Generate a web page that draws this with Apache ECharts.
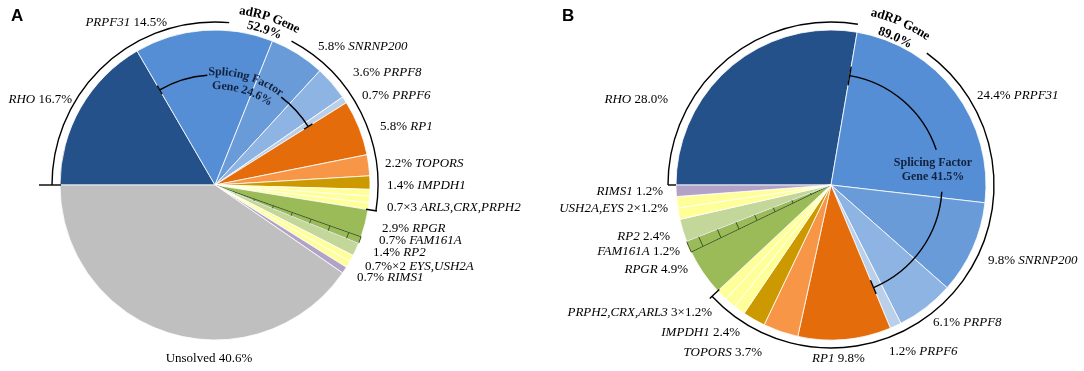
<!DOCTYPE html>
<html>
<head>
<meta charset="utf-8">
<script src="https://cdn.jsdelivr.net/npm/echarts@6/dist/echarts.min.js"></script>
<style>
  html, body { margin: 0; padding: 0; background: #fff; }
  #chart { width: 1084px; height: 371px; }
</style>
</head>
<body>
<div id="chart"></div>
<script>
// ---- data (percent of families) ----
var genesA = ['RHO', 'PRPF31', 'SNRNP200', 'PRPF8', 'PRPF6', 'RP1', 'TOPORS', 'IMPDH1', 'ARL3', 'CRX', 'PRPH2',
  'RPGR', 'FAM161A', 'RP2', 'EYS', 'USH2A', 'RIMS1', 'Unsolved']
var valuesA = [16.7, 14.5, 5.8, 3.6, 0.7, 5.8, 2.2, 1.4, 0.7, 0.7, 0.7, 2.9, 0.7, 1.4, 0.7, 0.7, 0.7, 40.6]
var labelsA = ['{g|RHO} 16.7%', '{g|PRPF31} 14.5%', '5.8% {g|SNRNP200}', '3.6% {g|PRPF8}', '0.7% {g|PRPF6}',
  '5.8% {g|RP1}', '2.2% {g|TOPORS}', '1.4% {g|IMPDH1}', '', '0.7×3 {g|ARL3,CRX,PRPH2}', '',
  '2.9% {g|RPGR}', '0.7% {g|FAM161A}', '1.4% {g|RP2}', '0.7%×2 {g|EYS,USH2A}', '', '0.7% {g|RIMS1}', 'Unsolved 40.6%']

var genesB = ['RHO', 'PRPF31', 'SNRNP200', 'PRPF8', 'PRPF6', 'RP1', 'TOPORS', 'IMPDH1', 'PRPH2', 'CRX', 'ARL3',
  'RPGR', 'FAM161A', 'RP2', 'USH2A', 'EYS', 'RIMS1']
var valuesB = [28.0, 24.4, 9.8, 6.1, 1.2, 9.8, 3.7, 2.4, 1.2, 1.2, 1.2, 4.9, 1.2, 2.4, 1.2, 1.2, 1.2]
var labelsB = ['{g|RHO} 28.0%', '24.4% {g|PRPF31}', '9.8% {g|SNRNP200}', '6.1% {g|PRPF8}', '1.2% {g|PRPF6}',
  '{g|RP1} 9.8%', '{g|TOPORS} 3.7%', '{g|IMPDH1} 2.4%', '', '{g|PRPH2,CRX,ARL3} 3×1.2%', '',
  '{g|RPGR} 4.9%', '{g|FAM161A} 1.2%', '{g|RP2} 2.4%', '{g|USH2A,EYS} 2×1.2%', '', '{g|RIMS1} 1.2%']

var groupTextA = ['adRP Gene', '52.9%', 'Splicing Factor', 'Gene 24.6%']
var groupTextB = ['adRP Gene', '89.0%', 'Splicing Factor', 'Gene 41.5%']
var adrpLast = 10      // last adRP slice index (PRPH2 / ARL3)
var spliceRange = [1, 4] // PRPF31 .. PRPF6

// ---- styles / layout ----
var colors = {
  RHO: '#245189', PRPF31: '#558ED5', SNRNP200: '#6A9BD9', PRPF8: '#8EB4E3', PRPF6: '#B9CFEA',
  RP1: '#E46C0A', TOPORS: '#F79646', IMPDH1: '#CC9900', ARL3: '#FFFF99', CRX: '#FFFF99', PRPH2: '#FFFF99',
  RPGR: '#9BBB59', FAM161A: '#9BBB59', RP2: '#C4D79B', EYS: '#FFFF99', USH2A: '#FFFF99',
  RIMS1: '#B3A2C7', Unsolved: '#BFBFBF'
}
var posA = [[72, 100, 'right'], [167, 23, 'right'], [318, 47], [353, 73], [362, 96], [380, 127], [385, 164],
  [387, 186], null, [387, 208], null, [382, 229], [379, 241], [373, 253], [365, 267], null, [357, 278],
  [209, 359, 'center']]
var posB = [[668, 100, 'right'], [977, 96], [988, 261], [933, 323], [889, 352], [812, 359], [762, 353, 'right'],
  [740, 333, 'right'], null, [712, 313, 'right'], null, [688, 270, 'right'], [680, 252, 'right'],
  [670, 237, 'right'], [668, 209, 'right'], null, [663, 192, 'right']]

var SERIF = '"Liberation Serif", "Times New Roman", serif'
var cA = [215, 185], cB = [831, 185], R = 155, START = 180
var hatchColor = '#3B5A1C'
var navy = '#10223F'

function bounds (values) {
  var total = values.reduce(function (s, v) { return s + v }, 0)
  var cum = 0
  return values.map(function (v) {
    var a0 = START - cum / total * 360
    cum += v
    return [a0, START - cum / total * 360]
  })
}

function pt (c, r, deg) {
  var a = deg * Math.PI / 180
  return [c[0] + r * Math.cos(a), c[1] - r * Math.sin(a)]
}

function arc (c, r, from, to, w) {
  return {
    type: 'arc', z: 100,
    shape: { cx: c[0], cy: c[1], r: r, startAngle: -from * Math.PI / 180, endAngle: -to * Math.PI / 180, clockwise: true },
    style: { stroke: '#000', fill: 'none', lineWidth: w || 1.4 }
  }
}

function tick (c, r1, r2, deg, w) {
  var p = pt(c, r1, deg), q = pt(c, r2, deg)
  return { type: 'line', z: 100, shape: { x1: p[0], y1: p[1], x2: q[0], y2: q[1] }, style: { stroke: '#000', lineWidth: w || 1.4 } }
}

var measureCtx = document.createElement('canvas').getContext('2d')
function curved (c, str, r, midDeg, font, color) {
  measureCtx.font = font
  var chars = str.split('')
  var ws = chars.map(function (ch) { return measureCtx.measureText(ch).width })
  var total = ws.reduce(function (s, v) { return s + v }, 0)
  var a0 = midDeg * Math.PI / 180 + total / 2 / r
  var acc = 0
  return chars.map(function (ch, i) {
    var a = a0 - (acc + ws[i] / 2) / r
    acc += ws[i]
    return {
      type: 'text', z: 101,
      x: c[0] + r * Math.cos(a), y: c[1] - r * Math.sin(a),
      rotation: a - Math.PI / 2,
      style: { text: ch, font: font, fill: color || '#000', align: 'center', verticalAlign: 'middle', textAlign: 'center', textVerticalAlign: 'middle' }
    }
  })
}

function hatch (c, b) {
  var els = []
  for (var r = 22; r < R; r += 20) {
    var p = pt(c, r, b[0]), q = pt(c, r, b[1])
    els.push({ type: 'line', z: 100, shape: { x1: p[0], y1: p[1], x2: q[0], y2: q[1] }, style: { stroke: hatchColor, lineWidth: 1 } })
  }
  return els
}

function buildData (genes, values, labels) {
  return genes.map(function (g, i) {
    var item = { name: g, value: values[i], itemStyle: { color: colors[g] } }
    if (g === 'FAM161A') item.itemStyle = { color: colors[g], borderColor: hatchColor, borderWidth: 1 }
    if (!labels[i]) item.label = { show: false }
    return item
  })
}

function pieSeries (center, genes, values, labels, pos) {
  return {
    type: 'pie',
    center: center,
    radius: R,
    startAngle: START,
    clockwise: true,
    silent: true,
    animation: false,
    avoidLabelOverlap: false,
    itemStyle: { borderColor: '#fff', borderWidth: 0.8 },
    label: {
      position: 'outside',
      fontFamily: SERIF,
      fontSize: 13,
      color: '#000',
      formatter: function (p) { return labels[p.dataIndex] },
      rich: { g: { fontFamily: SERIF, fontSize: 13, fontStyle: 'italic', color: '#000' } }
    },
    labelLine: { show: false },
    labelLayout: function (p) {
      var L = pos[p.dataIndex]
      if (!L) return {}
      return { x: L[0], y: L[1], align: L[2] || 'left', verticalAlign: 'middle' }
    },
    data: buildData(genes, values, labels)
  }
}

var bA = bounds(valuesA)
var bB = bounds(valuesB)
var BOLD13 = 'bold 13px ' + SERIF
var BOLD12 = 'bold 12px ' + SERIF

var graphics = []
// panel A brackets
graphics.push(arc(cA, 163, bA[0][0], 85), arc(cA, 163, 62, bA[adrpLast][1]))
graphics.push(tick(cA, 154, 176, bA[0][0]), tick(cA, 153, 164, bA[adrpLast][1]))
graphics.push(arc(cA, 110, bA[spliceRange[0]][0], 94), arc(cA, 110, 53, bA[spliceRange[1]][1]))
graphics.push(tick(cA, 105, 115, bA[spliceRange[0]][0]), tick(cA, 105, 115, bA[spliceRange[1]][1]))
graphics = graphics.concat(curved(cA, groupTextA[0], 176, 71.8, BOLD13))
graphics = graphics.concat(curved(cA, groupTextA[1], 163, 72.3, BOLD13))
graphics = graphics.concat(curved(cA, groupTextA[2], 113, 73.5, BOLD12, navy))
graphics = graphics.concat(curved(cA, groupTextA[3], 99, 73.5, BOLD12, navy))
graphics = graphics.concat(hatch(cA, bA[genesA.indexOf('FAM161A')]))
// panel B brackets
graphics.push(arc(cB, 163, bB[0][0], 80.5), arc(cB, 163, 54, bB[adrpLast][1]))
graphics.push(tick(cB, 155, 163, bB[0][0]), tick(cB, 153, 166, bB[adrpLast][1]))
graphics.push(arc(cB, 111, bB[spliceRange[0]][0], 18.5), arc(cB, 111, -3.5, bB[spliceRange[1]][1]))
graphics.push(tick(cB, 101, 120, bB[spliceRange[0]][0]), tick(cB, 103, 118, bB[spliceRange[1]][1]))
graphics = graphics.concat(curved(cB, groupTextB[0], 177, 66.7, BOLD13))
graphics = graphics.concat(curved(cB, groupTextB[1], 161, 66.5, BOLD13))
graphics.push({ type: 'text', z: 101, x: 933, y: 163, style: { text: groupTextB[2], font: BOLD12, fill: navy, align: 'center', verticalAlign: 'middle', textAlign: 'center', textVerticalAlign: 'middle' } })
graphics.push({ type: 'text', z: 101, x: 933, y: 177, style: { text: groupTextB[3], font: BOLD12, fill: navy, align: 'center', verticalAlign: 'middle', textAlign: 'center', textVerticalAlign: 'middle' } })
graphics = graphics.concat(hatch(cB, bB[genesB.indexOf('FAM161A')]))
// panel letters
graphics.push({ type: 'text', z: 101, x: 11, y: 8, style: { text: 'A', font: 'bold 17px "Liberation Sans", Arial, sans-serif', fill: '#000' } })
graphics.push({ type: 'text', z: 101, x: 562, y: 8, style: { text: 'B', font: 'bold 17px "Liberation Sans", Arial, sans-serif', fill: '#000' } })

var myChart = echarts.init(document.getElementById('chart'))
myChart.setOption({
  backgroundColor: '#fff',
  animation: false,
  graphic: { elements: graphics },
  series: [
    pieSeries(cA, genesA, valuesA, labelsA, posA),
    pieSeries(cB, genesB, valuesB, labelsB, posB)
  ]
})
</script>
</body>
</html>
